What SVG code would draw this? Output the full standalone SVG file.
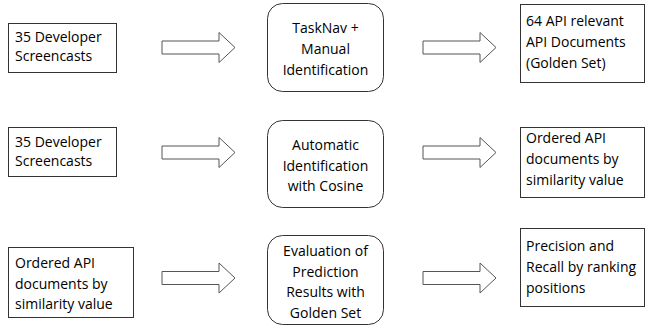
<svg xmlns="http://www.w3.org/2000/svg" width="646" height="326" viewBox="0 0 646 326">
<defs>
<style>
.box{fill:#fff;stroke:#333;stroke-width:1}
.rbox{fill:#fff;stroke:#333;stroke-width:1}
.arr{fill:#fff;stroke:#555;stroke-width:1}
text{font-family:"Open Sans","Liberation Sans",sans-serif;font-size:14px;fill:#000}
.c{text-anchor:middle}
</style>
<path id="ar" d="M0,-6.5 H57 V-15 L73,0 L57,15 V6.5 H0 Z"/>
</defs>
<rect width="646" height="326" fill="#fff"/>
<g id="connectors">
<use href="#ar" class="arr" x="162" y="47.5"/>
<use href="#ar" class="arr" x="423" y="47.5"/>
<use href="#ar" class="arr" x="162" y="152.5"/>
<use href="#ar" class="arr" x="423" y="152.5"/>
<use href="#ar" class="arr" x="162" y="278"/>
<use href="#ar" class="arr" x="423" y="278"/>
</g>
<g id="n1">
<rect class="box" x="8.5" y="23.5" width="108" height="49"/>
<text x="15" y="42">35 Developer</text>
<text x="15" y="61">Screencasts</text>
</g>
<g id="n2">
<rect class="rbox" x="267.5" y="3.5" width="116" height="88" rx="15"/>
<text class="c" x="325.5" y="33">TaskNav +</text>
<text class="c" x="325.5" y="54">Manual</text>
<text class="c" x="325.5" y="75">Identification</text>
</g>
<g id="n3">
<rect class="box" x="520.5" y="4.5" width="124" height="78"/>
<text x="526" y="26">64 API relevant</text>
<text x="526" y="47">API Documents</text>
<text x="526" y="68">(Golden Set)</text>
</g>
<g id="n4">
<rect class="box" x="8.5" y="127.5" width="108" height="49"/>
<text x="15" y="147">35 Developer</text>
<text x="15" y="166">Screencasts</text>
</g>
<g id="n5">
<rect class="rbox" x="267.5" y="120.5" width="116" height="87" rx="15"/>
<text class="c" x="325.5" y="150">Automatic</text>
<text class="c" x="325.5" y="171">Identification</text>
<text class="c" x="325.5" y="191">with Cosine</text>
</g>
<g id="n6">
<rect class="box" x="520.5" y="127.5" width="124" height="70"/>
<text x="526" y="143">Ordered API</text>
<text x="526" y="164">documents by</text>
<text x="526" y="185">similarity value</text>
</g>
<g id="n7">
<rect class="box" x="8.5" y="247.5" width="125" height="70"/>
<text x="15" y="268">Ordered API</text>
<text x="15" y="289">documents by</text>
<text x="15" y="309">similarity value</text>
</g>
<g id="n8">
<rect class="rbox" x="267.5" y="235.5" width="116" height="89" rx="15"/>
<text class="c" x="325.5" y="256">Evaluation of</text>
<text class="c" x="325.5" y="276.5">Prediction</text>
<text class="c" x="325.5" y="297">Results with</text>
<text class="c" x="325.5" y="317.5">Golden Set</text>
</g>
<g id="n9">
<rect class="box" x="520.5" y="228.5" width="124" height="78"/>
<text x="526" y="251">Precision and</text>
<text x="526" y="272">Recall by ranking</text>
<text x="526" y="293">positions</text>
</g>
</svg>
